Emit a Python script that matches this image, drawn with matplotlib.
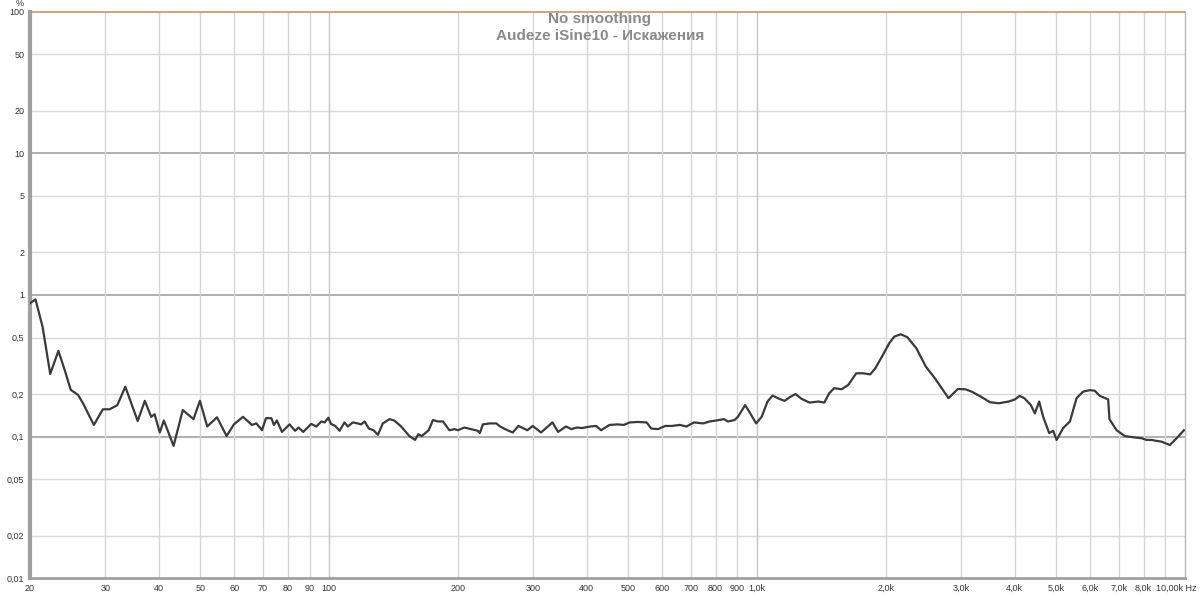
import numpy as np
import matplotlib.pyplot as plt

plt.rcParams['font.family'] = ['Liberation Sans', 'DejaVu Sans']

# частота, Гц
freq = [20, 20.6, 21.4, 22.3, 23.3, 24.1, 24.9, 25.9, 26.6, 28.2, 29.6, 30.7, 32.0, 33.4, 34.5,
        35.7, 37.1, 38.4, 39.1, 40.2, 41.1, 43.3, 45.5, 48.2, 49.9, 51.9, 54.7, 57.6, 59.9, 62.9,
        66.0, 67.6, 69.7, 71.2, 73.3, 74.3, 75.5, 77.6, 80.8, 83.3, 84.8, 87.0, 90.8, 93.4, 95.9,
        97.6, 99.6, 101, 103.4, 105.8, 108.6, 110.6, 113.6, 116.6, 118.8, 121, 123.9, 127, 130,
        133.5, 138.4, 142, 147.3, 154, 158.8, 161.6, 164.6, 170.9, 174.8, 179.6, 184.5, 191, 196.4,
        200, 207, 214.8, 222.6, 225, 228.7, 237, 245.8, 251, 257.8, 268.5, 277, 290.6, 299, 312.8,
        332.6, 342.8, 357.8, 368, 379.6, 390, 408, 421, 432, 452, 472, 488, 504, 527, 552, 566, 587,
        610, 632, 660, 684, 712, 748, 775, 803, 837, 855, 886, 902, 938, 964, 995, 1025, 1058, 1087,
        1126, 1160, 1193, 1229, 1270, 1326, 1390, 1436, 1474, 1514, 1576, 1634, 1705, 1770, 1838,
        1890, 1958, 2036, 2092, 2166, 2244, 2356, 2480, 2604, 2802, 2946, 3066, 3172, 3332, 3500,
        3674, 3872, 4004, 4106, 4212, 4364, 4458, 4562, 4662, 4816, 4920, 5012, 5192, 5384, 5580,
        5782, 5994, 6152, 6324, 6614, 6660, 6920, 7234, 7568, 7916, 8132, 8358, 8504, 8812, 9218,
        9640, 9940]

# искажения, %
thd = [0.874, 0.93, 0.597, 0.277, 0.403, 0.296, 0.214, 0.197, 0.172, 0.121, 0.156, 0.156, 0.167,
       0.225, 0.172, 0.129, 0.179, 0.138, 0.144, 0.107, 0.130, 0.086, 0.154, 0.133, 0.179, 0.118,
       0.137, 0.101, 0.122, 0.138, 0.121, 0.124, 0.111, 0.135, 0.135, 0.121, 0.130, 0.108, 0.122,
       0.110, 0.116, 0.108, 0.123, 0.118, 0.128, 0.126, 0.136, 0.123, 0.119, 0.110, 0.126, 0.118,
       0.126, 0.124, 0.122, 0.128, 0.114, 0.111, 0.103, 0.124, 0.133, 0.130, 0.118, 0.101, 0.0948,
       0.104, 0.101, 0.111, 0.131, 0.128, 0.128, 0.111, 0.113, 0.111, 0.116, 0.113, 0.110, 0.106,
       0.122, 0.124, 0.124, 0.118, 0.113, 0.107, 0.119, 0.111, 0.119, 0.107, 0.126, 0.108, 0.118,
       0.113, 0.116, 0.115, 0.118, 0.119, 0.111, 0.121, 0.122, 0.121, 0.126, 0.127, 0.126, 0.114,
       0.113, 0.119, 0.119, 0.121, 0.118, 0.126, 0.124, 0.128, 0.130, 0.133, 0.128, 0.131, 0.138,
       0.167, 0.146, 0.124, 0.138, 0.177, 0.195, 0.185, 0.179, 0.190, 0.200, 0.185, 0.174, 0.177,
       0.174, 0.202, 0.220, 0.216, 0.232, 0.280, 0.280, 0.275, 0.304, 0.367, 0.456, 0.508, 0.528,
       0.504, 0.421, 0.312, 0.258, 0.187, 0.217, 0.216, 0.208, 0.192, 0.175, 0.172, 0.177, 0.183,
       0.194, 0.187, 0.167, 0.146, 0.177, 0.138, 0.106, 0.110, 0.0948, 0.115, 0.128, 0.187, 0.208,
       0.213, 0.211, 0.194, 0.183, 0.133, 0.111, 0.101, 0.099, 0.0975, 0.0948, 0.0948, 0.0938,
       0.0922, 0.0873, 0.100, 0.111]

x_ticks = [20, 30, 40, 50, 60, 70, 80, 90, 100, 200, 300, 400, 500, 600, 700, 800, 900,
           1000, 2000, 3000, 4000, 5000, 6000, 7000, 8000, 9000, 10000]
x_labels = ['20', '30', '40', '50', '60', '70', '80', '90', '100', '200', '300', '400', '500',
            '600', '700', '800', '900', '1,0k', '2,0k', '3,0k', '4,0k', '5,0k', '6,0k', '7,0k',
            '8,0k', '', '']
y_ticks = [0.01, 0.02, 0.05, 0.1, 0.2, 0.5, 1, 2, 5, 10, 20, 50, 100]
y_labels = ['0,01', '0,02', '0,05', '0,1', '0,2', '0,5', '1', '2', '5', '10', '20', '50', '100']

fig = plt.figure(figsize=(12, 5.95), dpi=100)
ax = fig.add_axes([0.025, 0.028, 0.9625, 0.9525])

ax.set_xscale('log')
ax.set_yscale('log')
ax.set_xlim(20, 10000)
ax.set_ylim(0.01, 100)

# сетка
for v in y_ticks[1:-1]:
    if v in (0.1, 1, 10):
        ax.axhline(v, color='#a9a9a9', lw=1.3, zorder=1)
    else:
        ax.axhline(v, color='#d9d9d9', lw=1, zorder=1)
for f in x_ticks[1:-1]:
    c = '#c4c4c4' if f in (100, 1000) else '#d6d6d6'
    ax.axvline(f, color=c, lw=1, zorder=1)

ax.plot(freq, thd, color='#3a3a3a', lw=1.6, zorder=3)

ax.set_xticks(x_ticks)
ax.set_xticklabels(x_labels)
ax.set_yticks(y_ticks)
ax.set_yticklabels(y_labels)
ax.minorticks_off()
ax.tick_params(length=0, labelsize=6.5, labelcolor='#333333', pad=4)

ax.spines['left'].set_color('#a0a0a0')
ax.spines['left'].set_linewidth(3)
ax.spines['bottom'].set_color('#a0a0a0')
ax.spines['bottom'].set_linewidth(2)
ax.spines['top'].set_color('#c8956a')
ax.spines['top'].set_linewidth(1.2)
ax.spines['right'].set_color('#b8b8b8')
ax.spines['right'].set_linewidth(1)

fig.text(0.5, 1 - 19 / 595, 'No smoothing', ha='center', va='center',
         fontsize=11, fontweight='bold', color='#8a8a8a')
fig.text(0.5, 1 - 36 / 595, 'Audeze iSine10 - Искажения', ha='center', va='center',
         fontsize=11, fontweight='bold', color='#8a8a8a')
fig.text(20 / 1200, 1 - 4 / 595, '%', ha='center', va='center', fontsize=6.5, color='#333333')
fig.text(1197 / 1200, 1 - 588 / 595, '10,00k Hz', ha='right', va='center',
         fontsize=6.5, color='#333333')

fig.savefig('out.png', dpi=100)
